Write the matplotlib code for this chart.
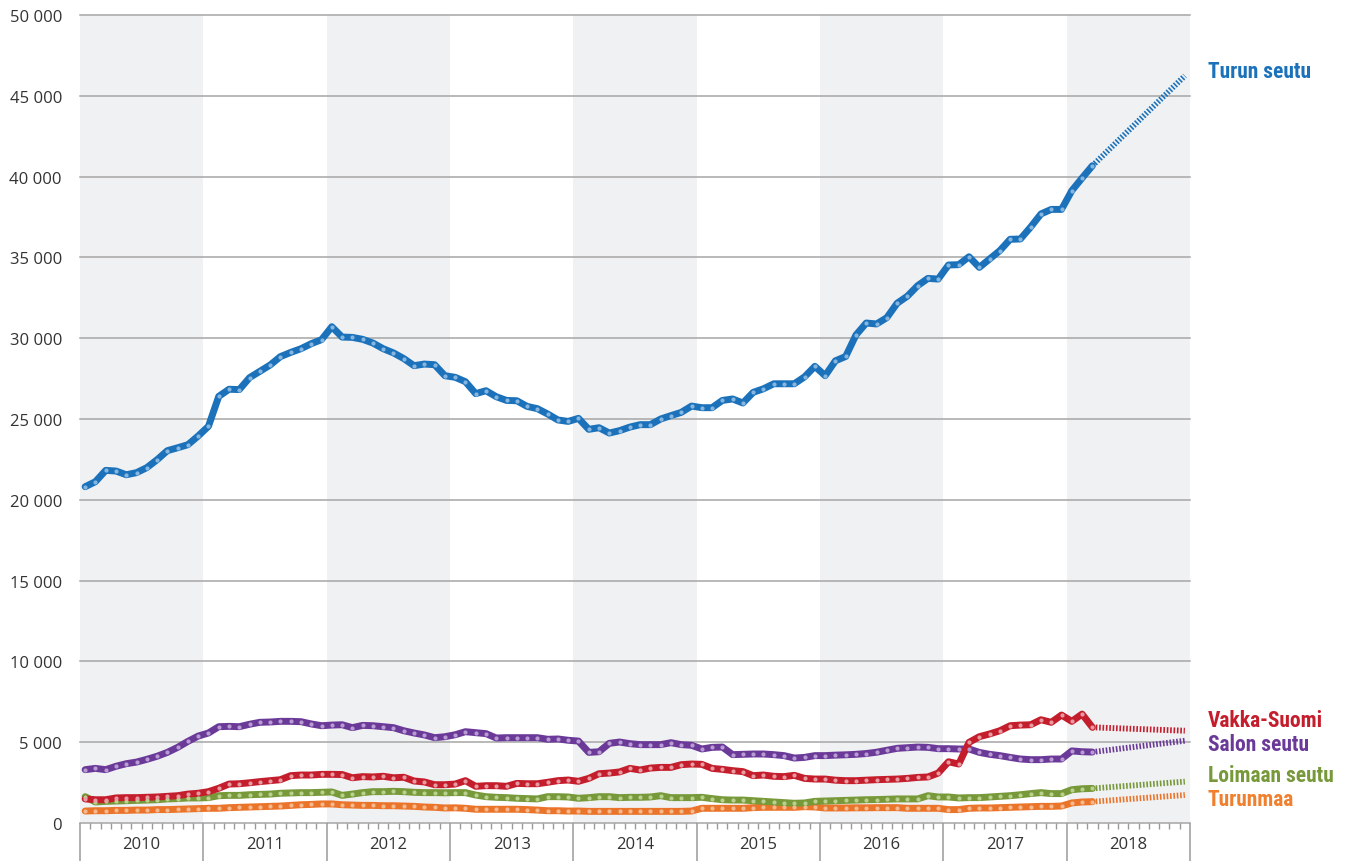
import matplotlib
matplotlib.use("Agg")
import matplotlib.pyplot as plt
import numpy as np

# ---------------- data (monthly, Jan 2010 .. Mar 2018) ----------------
years = ["2010", "2011", "2012", "2013", "2014", "2015", "2016", "2017", "2018"]
y_ticks = [0, 5000, 10000, 15000, 20000, 25000, 30000, 35000, 40000, 45000, 50000]

turun_seutu = [
    20810, 21120, 21820, 21780, 21550, 21680, 21990, 22480, 23040, 23220, 23410, 23950,
    24550, 26400, 26840, 26820, 27560, 27950, 28340, 28860, 29120, 29350, 29660, 29910,
    30710, 30070, 30050, 29930, 29700, 29350, 29090, 28740, 28300, 28400, 28360, 27680,
    27580, 27310, 26570, 26750, 26380, 26150, 26130, 25780, 25640, 25310, 24940, 24850,
    25040, 24360, 24460, 24130, 24280, 24500, 24650, 24650, 25000, 25210, 25410, 25800,
    25700, 25700, 26150, 26240, 25990, 26650, 26870, 27180, 27180, 27180, 27610, 28260,
    27680, 28600, 28870, 30200, 30940, 30880, 31270, 32160, 32600, 33250, 33700, 33660,
    34530, 34550, 35040, 34380, 34900, 35420, 36120, 36140, 36880, 37690, 37970, 37970,
    39130, 39910, 40670]

vakka_suomi = [
    1490, 1440, 1440, 1550, 1570, 1570, 1590, 1610, 1650, 1690, 1790, 1840,
    1940, 2150, 2410, 2430, 2490, 2560, 2620, 2680, 2930, 2970, 2970, 3010,
    3010, 3000, 2800, 2870, 2850, 2890, 2800, 2830, 2600, 2540, 2370, 2370,
    2410, 2620, 2270, 2310, 2310, 2270, 2450, 2430, 2430, 2520, 2620, 2660,
    2580, 2760, 3050, 3090, 3160, 3380, 3280, 3400, 3440, 3440, 3610, 3650,
    3630, 3380, 3320, 3240, 3180, 2930, 2970, 2890, 2870, 2950, 2760, 2720,
    2720, 2650, 2620, 2620, 2650, 2680, 2700, 2720, 2760, 2820, 2850, 3090,
    3790, 3650, 4990, 5340, 5510, 5710, 6020, 6060, 6080, 6390, 6230, 6680,
    6290, 6740, 5920]

salon_seutu = [
    3300, 3380, 3300, 3510, 3670, 3770, 3940, 4130, 4370, 4680, 5050, 5380,
    5570, 5960, 5980, 5960, 6110, 6230, 6250, 6290, 6290, 6270, 6130, 6020,
    6060, 6080, 5900, 6040, 6020, 5960, 5900, 5710, 5570, 5450, 5280, 5340,
    5460, 5650, 5590, 5530, 5260, 5280, 5280, 5280, 5280, 5180, 5200, 5120,
    5070, 4370, 4410, 4930, 5010, 4910, 4850, 4850, 4850, 4970, 4850, 4810,
    4580, 4680, 4700, 4230, 4250, 4270, 4270, 4230, 4170, 4020, 4060, 4170,
    4170, 4200, 4220, 4250, 4300, 4380, 4500, 4620, 4660, 4700, 4680, 4600,
    4600, 4580, 4580, 4370, 4250, 4170, 4060, 3960, 3920, 3920, 3960, 3960,
    4460, 4410, 4390]

loimaan_seutu = [
    1630, 1300, 1340, 1360, 1380, 1400, 1420, 1440, 1490, 1510, 1550, 1550,
    1570, 1690, 1710, 1710, 1750, 1770, 1790, 1840, 1860, 1880, 1880, 1900,
    1920, 1710, 1790, 1880, 1940, 1940, 1960, 1940, 1900, 1880, 1880, 1870,
    1880, 1880, 1730, 1630, 1590, 1570, 1530, 1510, 1490, 1630, 1630, 1610,
    1530, 1570, 1630, 1630, 1570, 1590, 1590, 1610, 1690, 1570, 1570, 1570,
    1590, 1510, 1440, 1420, 1420, 1380, 1340, 1300, 1260, 1220, 1240, 1340,
    1360, 1380, 1400, 1420, 1440, 1450, 1470, 1490, 1490, 1490, 1690, 1610,
    1610, 1550, 1570, 1570, 1610, 1650, 1690, 1750, 1820, 1880, 1820, 1820,
    2060, 2120, 2140]

turunmaa = [
    740, 760, 760, 780, 780, 800, 800, 830, 830, 850, 870, 890,
    910, 910, 950, 970, 990, 1010, 1030, 1050, 1090, 1130, 1150, 1180,
    1180, 1130, 1110, 1090, 1090, 1070, 1070, 1050, 1030, 990, 970, 930,
    940, 910, 850, 850, 850, 850, 850, 830, 800, 760, 760, 740,
    740, 720, 720, 720, 720, 720, 720, 720, 720, 720, 720, 740,
    910, 910, 910, 910, 910, 950, 970, 970, 970, 970, 1010, 990,
    930, 930, 930, 940, 940, 950, 950, 950, 910, 910, 910, 910,
    830, 830, 910, 930, 930, 950, 970, 990, 1010, 1030, 1030, 1050,
    1240, 1300, 1320]

# forecast end values (Dec 2018)
forecast_end = {"Turun seutu": 46240, "Vakka-Suomi": 5710, "Salon seutu": 5090,
                "Loimaan seutu": 2560, "Turunmaa": 1730}

series_names = ["Salon seutu", "Turunmaa", "Loimaan seutu", "Vakka-Suomi", "Turun seutu"]
series_values = {"Turun seutu": turun_seutu, "Vakka-Suomi": vakka_suomi,
                 "Salon seutu": salon_seutu, "Loimaan seutu": loimaan_seutu,
                 "Turunmaa": turunmaa}
line_colors = {"Turun seutu": "#1b72ba", "Vakka-Suomi": "#c41e2d",
               "Salon seutu": "#6b3a98", "Loimaan seutu": "#77993a",
               "Turunmaa": "#ea742a"}
dot_colors = {"Turun seutu": "#86b6e0", "Vakka-Suomi": "#e79aa1",
              "Salon seutu": "#b79bd2", "Loimaan seutu": "#bad08f",
              "Turunmaa": "#f5b98f"}
label_colors = {"Turun seutu": "#1b72ba", "Vakka-Suomi": "#c41e2d",
                "Salon seutu": "#6b3a98", "Loimaan seutu": "#77993a",
                "Turunmaa": "#f07f2e"}
label_y = {"Turun seutu": 72, "Vakka-Suomi": 721, "Salon seutu": 745,
           "Loimaan seutu": 776, "Turunmaa": 800}  # pixel rows

# ---------------- figure ----------------
W, H = 1349, 862
fig = plt.figure(figsize=(W / 100, H / 100), dpi=100)
L, R, T, B = 80, 1190, 16, 824
ax = fig.add_axes([L / W, 1 - B / H, (R - L) / W, (B - T) / H])

n_months = 12 * len(years)
ax.set_xlim(0, n_months)
ax.set_ylim(0, 50000)

# alternating year bands
for k in range(0, len(years), 2):
    ax.axvspan(12 * k, 12 * (k + 1), color="#f0f1f3", lw=0, zorder=0)

# gridlines
for v in y_ticks:
    ax.axhline(v, color="#a6a6a6", lw=1.1, zorder=1, clip_on=False)

for s in ax.spines.values():
    s.set_visible(False)

# y ticks
ax.set_yticks(y_ticks)
ax.set_yticklabels([f"{v:,}".replace(",", " ") for v in y_ticks])
ax.tick_params(axis="y", length=0, pad=13, labelsize=12, labelcolor="#333333")
for lab in ax.get_yticklabels():
    lab.set_fontfamily(["Open Sans", "DejaVu Sans"])

# x ticks: year separators (major), months (minor)
ax.set_xticks(np.arange(0, n_months + 1, 12))
ax.set_xticklabels([])
ax.set_xticks(np.arange(0, n_months + 1, 1), minor=True)
ax.tick_params(axis="x", which="major", direction="out", length=27.5, width=1.1,
               color="#9a9a9a")
ax.tick_params(axis="x", which="minor", direction="out", length=4.5, width=1.0,
               color="#9a9a9a")
for k, yr in enumerate(years):
    ax.text(12 * k + 6, -21 / (B - T), yr, transform=ax.get_xaxis_transform(),
            ha="center", va="center", fontsize=12, color="#333333",
            family=["Open Sans", "DejaVu Sans"])

# series
for name in series_names:
    vals = np.array(series_values[name], dtype=float)
    x = np.arange(len(vals)) + 0.5
    # forecast
    xf = [x[-1], n_months - 0.5]
    yf = [vals[-1], forecast_end[name]]
    ax.plot(xf, yf, color=line_colors[name], lw=4.2, linestyle=(0, (0.28, 0.30)),
            dash_capstyle="butt", solid_capstyle="butt", zorder=3)
    ax.plot(x, vals, color=line_colors[name], lw=5.0, solid_joinstyle="round",
            solid_capstyle="round", zorder=4)
    ax.plot(x, vals, linestyle="none", marker="o", markersize=3.0,
            markerfacecolor=dot_colors[name], markeredgewidth=0, zorder=5)

# right-side labels
for name in series_names:
    fig.text(1208 / W, 1 - label_y[name] / H, name, ha="left", va="center",
             fontsize=15.5, fontweight="bold", color=label_colors[name],
             family=["Roboto Condensed", "Roboto", "DejaVu Sans"])

fig.savefig("out.png", dpi=100)
